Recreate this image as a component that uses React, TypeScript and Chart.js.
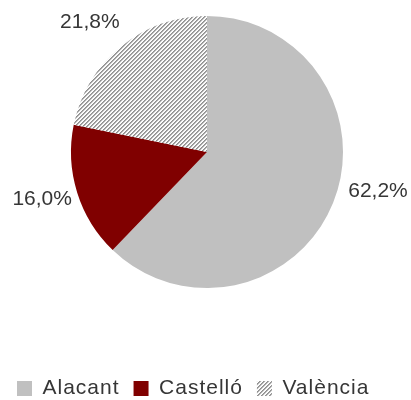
import React, { useEffect, useRef } from 'react';
import { Chart, registerables } from 'chart.js';

Chart.register(...registerables);

// ---- data ----
const categories: string[] = ['Alacant', 'Castelló', 'València'];
const shares: number[] = [62.2, 16.0, 21.8];

// ---- style ----
const solidColors: string[] = ['#c0c0c0', '#800000'];
const textColor = '#363636';
const fontFamily = '"Liberation Sans", Arial, sans-serif';
const labelGap = 10;
const labelNudge: [number, number][] = [[8, -19], [3, 1], [-6, -9]];

const formatPct = (v: number) => v.toFixed(1).replace('.', ',') + '%';

function makeHatch(ctx: CanvasRenderingContext2D): CanvasPattern | string {
  const tile = document.createElement('canvas');
  tile.width = 4;
  tile.height = 4;
  const t = tile.getContext('2d');
  if (!t) return '#d0d0d0';
  const img = t.createImageData(4, 4);
  for (let y = 0; y < 4; y++) {
    for (let x = 0; x < 4; x++) {
      const k = (x + y) % 4;
      const v = k === 0 ? 0x90 : k === 1 ? 0xaa : k === 2 ? 0xf4 : 0xff;
      const o = (y * 4 + x) * 4;
      img.data[o] = v;
      img.data[o + 1] = v;
      img.data[o + 2] = v;
      img.data[o + 3] = 255;
    }
  }
  t.putImageData(img, 0, 0);
  return ctx.createPattern(tile, 'repeat') || '#d0d0d0';
}

const spacingPlugin = {
  id: 'legendLetterSpacing',
  beforeUpdate(chart: any) {
    chart.ctx.letterSpacing = '1px';
  },
  beforeDraw(chart: any) {
    chart.ctx.letterSpacing = '1px';
  },
};

const outerLabelPlugin = {
  id: 'outerLabels',
  afterDatasetsDraw(chart: any) {
    const ctx: CanvasRenderingContext2D = chart.ctx;
    const meta = chart.getDatasetMeta(0);
    ctx.save();
    (ctx as any).letterSpacing = '0px';
    ctx.font = `21px ${fontFamily}`;
    ctx.fillStyle = textColor;
    ctx.textAlign = 'center';
    ctx.textBaseline = 'middle';
    meta.data.forEach((arc: any, i: number) => {
      const { x, y, startAngle, endAngle, outerRadius } = arc.getProps(
        ['x', 'y', 'startAngle', 'endAngle', 'outerRadius'],
        true
      );
      const mid = (startAngle + endAngle) / 2;
      const dx = Math.cos(mid);
      const dy = Math.sin(mid);
      const text = formatPct(shares[i]);
      const w = ctx.measureText(text).width;
      const h = 21;
      const d = outerRadius + labelGap;
      const cx = x + dx * d + (dx * w) / 2 + labelNudge[i][0];
      const cy = y + dy * d + (dy * h) / 2 + labelNudge[i][1];
      ctx.fillText(text, cx, cy);
    });
    ctx.restore();
  },
};

export default function App() {
  const canvasRef = useRef<HTMLCanvasElement | null>(null);

  useEffect(() => {
    document.body.style.margin = '0';
    const canvas = canvasRef.current;
    if (!canvas) return;
    const ctx = canvas.getContext('2d');
    if (!ctx) return;
    const hatch = makeHatch(ctx);

    const chart = new Chart(canvas, {
      type: 'pie',
      data: {
        labels: categories,
        datasets: [
          {
            data: shares,
            backgroundColor: [solidColors[0], solidColors[1], hatch] as any,
            borderWidth: 0,
          },
        ],
      },
      options: {
        responsive: false,
        animation: false,
        events: [],
        layout: { padding: { top: 16, left: 3, right: -2, bottom: 0 } },
        plugins: {
          tooltip: { enabled: false },
          title: {
            display: true,
            text: ' ',
            position: 'bottom',
            weight: 500,
            padding: 0,
            font: { size: 1, lineHeight: '76px' as any },
          },
          legend: {
            display: true,
            position: 'bottom',
            align: 'start',
            maxHeight: 36,
            labels: {
              boxWidth: 15,
              boxHeight: 15,
              padding: 14,
              color: textColor,
              font: { size: 21, family: fontFamily },
            },
          },
        },
      },
      plugins: [spacingPlugin, outerLabelPlugin],
    });

    return () => chart.destroy();
  }, []);

  return (
    <div style={{ width: 411, height: 400 }}>
      <canvas ref={canvasRef} width={411} height={400} style={{ display: 'block', width: 411, height: 400 }} />
    </div>
  );
}
